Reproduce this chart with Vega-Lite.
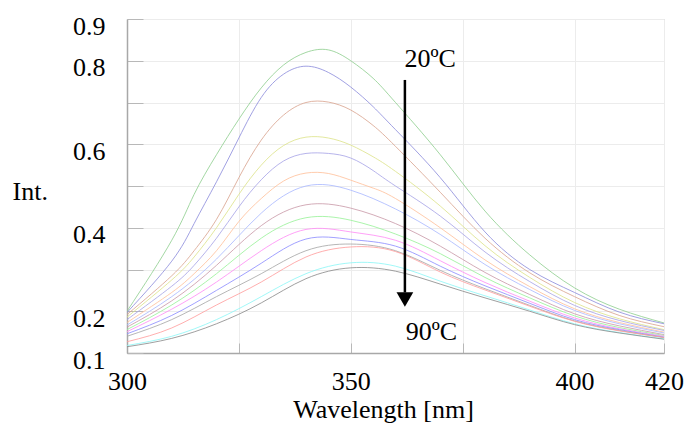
{
"$schema":"https://vega.github.io/schema/vega-lite/v6.json",
"width":537,"height":334,
"autosize":{"type":"none"},
"padding":{"left":127,"top":19,"right":22,"bottom":75},
"background":"white",
"config":{"view":{"stroke":"#c4c4c4","strokeWidth":1},"font":"Liberation Serif"},
"datasets":{
"spectra":[
{"T":"20","wl":300,"v":0.200},{"T":"20","wl":310,"v":0.370},{"T":"20","wl":315,"v":0.480},{"T":"20","wl":320,"v":0.575},{"T":"20","wl":325,"v":0.660},{"T":"20","wl":330,"v":0.735},{"T":"20","wl":335,"v":0.790},{"T":"20","wl":340,"v":0.820},{"T":"20","wl":345,"v":0.826},{"T":"20","wl":350,"v":0.800},{"T":"20","wl":355,"v":0.758},{"T":"20","wl":360,"v":0.700},{"T":"20","wl":370,"v":0.575},{"T":"20","wl":380,"v":0.440},{"T":"20","wl":390,"v":0.335},{"T":"20","wl":400,"v":0.256},{"T":"20","wl":410,"v":0.205},{"T":"20","wl":420,"v":0.172},
{"T":"25","wl":300,"v":0.197},{"T":"25","wl":310,"v":0.320},{"T":"25","wl":315,"v":0.410},{"T":"25","wl":320,"v":0.510},{"T":"25","wl":325,"v":0.615},{"T":"25","wl":330,"v":0.712},{"T":"25","wl":335,"v":0.768},{"T":"25","wl":340,"v":0.787},{"T":"25","wl":345,"v":0.772},{"T":"25","wl":350,"v":0.737},{"T":"25","wl":355,"v":0.690},{"T":"25","wl":360,"v":0.635},{"T":"25","wl":370,"v":0.520},{"T":"25","wl":380,"v":0.390},{"T":"25","wl":390,"v":0.300},{"T":"25","wl":400,"v":0.245},{"T":"25","wl":410,"v":0.198},{"T":"25","wl":420,"v":0.170},
{"T":"30","wl":300,"v":0.192},{"T":"30","wl":310,"v":0.285},{"T":"30","wl":315,"v":0.345},{"T":"30","wl":320,"v":0.420},{"T":"30","wl":325,"v":0.520},{"T":"30","wl":330,"v":0.610},{"T":"30","wl":335,"v":0.670},{"T":"30","wl":340,"v":0.700},{"T":"30","wl":345,"v":0.701},{"T":"30","wl":350,"v":0.682},{"T":"30","wl":355,"v":0.645},{"T":"30","wl":360,"v":0.595},{"T":"30","wl":370,"v":0.485},{"T":"30","wl":380,"v":0.375},{"T":"30","wl":390,"v":0.292},{"T":"30","wl":400,"v":0.235},{"T":"30","wl":410,"v":0.190},{"T":"30","wl":420,"v":0.163},
{"T":"35","wl":300,"v":0.186},{"T":"35","wl":310,"v":0.275},{"T":"35","wl":315,"v":0.330},{"T":"35","wl":320,"v":0.400},{"T":"35","wl":325,"v":0.480},{"T":"35","wl":330,"v":0.550},{"T":"35","wl":335,"v":0.597},{"T":"35","wl":340,"v":0.617},{"T":"35","wl":345,"v":0.615},{"T":"35","wl":350,"v":0.598},{"T":"35","wl":355,"v":0.570},{"T":"35","wl":360,"v":0.535},{"T":"35","wl":370,"v":0.452},{"T":"35","wl":380,"v":0.357},{"T":"35","wl":390,"v":0.281},{"T":"35","wl":400,"v":0.221},{"T":"35","wl":410,"v":0.182},{"T":"35","wl":420,"v":0.156},
{"T":"40","wl":300,"v":0.180},{"T":"40","wl":310,"v":0.260},{"T":"40","wl":315,"v":0.310},{"T":"40","wl":320,"v":0.375},{"T":"40","wl":325,"v":0.450},{"T":"40","wl":330,"v":0.515},{"T":"40","wl":335,"v":0.560},{"T":"40","wl":340,"v":0.578},{"T":"40","wl":345,"v":0.578},{"T":"40","wl":350,"v":0.567},{"T":"40","wl":355,"v":0.537},{"T":"40","wl":360,"v":0.500},{"T":"40","wl":370,"v":0.428},{"T":"40","wl":380,"v":0.342},{"T":"40","wl":390,"v":0.271},{"T":"40","wl":400,"v":0.214},{"T":"40","wl":410,"v":0.178},{"T":"40","wl":420,"v":0.154},
{"T":"45","wl":300,"v":0.173},{"T":"45","wl":310,"v":0.245},{"T":"45","wl":315,"v":0.290},{"T":"45","wl":320,"v":0.345},{"T":"45","wl":325,"v":0.415},{"T":"45","wl":330,"v":0.470},{"T":"45","wl":335,"v":0.512},{"T":"45","wl":340,"v":0.531},{"T":"45","wl":345,"v":0.530},{"T":"45","wl":350,"v":0.514},{"T":"45","wl":355,"v":0.495},{"T":"45","wl":360,"v":0.470},{"T":"45","wl":370,"v":0.400},{"T":"45","wl":380,"v":0.323},{"T":"45","wl":390,"v":0.259},{"T":"45","wl":400,"v":0.206},{"T":"45","wl":410,"v":0.173},{"T":"45","wl":420,"v":0.150},
{"T":"50","wl":300,"v":0.167},{"T":"50","wl":310,"v":0.235},{"T":"50","wl":320,"v":0.325},{"T":"50","wl":330,"v":0.435},{"T":"50","wl":340,"v":0.500},{"T":"50","wl":350,"v":0.490},{"T":"50","wl":360,"v":0.445},{"T":"50","wl":370,"v":0.384},{"T":"50","wl":380,"v":0.312},{"T":"50","wl":390,"v":0.252},{"T":"50","wl":400,"v":0.202},{"T":"50","wl":410,"v":0.170},{"T":"50","wl":420,"v":0.148},
{"T":"55","wl":300,"v":0.162},{"T":"55","wl":310,"v":0.225},{"T":"55","wl":320,"v":0.310},{"T":"55","wl":330,"v":0.405},{"T":"55","wl":340,"v":0.455},{"T":"55","wl":350,"v":0.447},{"T":"55","wl":360,"v":0.410},{"T":"55","wl":370,"v":0.356},{"T":"55","wl":380,"v":0.293},{"T":"55","wl":390,"v":0.240},{"T":"55","wl":400,"v":0.194},{"T":"55","wl":410,"v":0.165},{"T":"55","wl":420,"v":0.144},
{"T":"60","wl":300,"v":0.156},{"T":"60","wl":310,"v":0.215},{"T":"60","wl":320,"v":0.290},{"T":"60","wl":330,"v":0.375},{"T":"60","wl":340,"v":0.424},{"T":"60","wl":350,"v":0.418},{"T":"60","wl":360,"v":0.385},{"T":"60","wl":370,"v":0.338},{"T":"60","wl":380,"v":0.281},{"T":"60","wl":390,"v":0.232},{"T":"60","wl":400,"v":0.189},{"T":"60","wl":410,"v":0.161},{"T":"60","wl":420,"v":0.142},
{"T":"65","wl":300,"v":0.151},{"T":"65","wl":310,"v":0.205},{"T":"65","wl":320,"v":0.270},{"T":"65","wl":330,"v":0.345},{"T":"65","wl":340,"v":0.396},{"T":"65","wl":350,"v":0.390},{"T":"65","wl":360,"v":0.370},{"T":"65","wl":370,"v":0.321},{"T":"65","wl":380,"v":0.269},{"T":"65","wl":390,"v":0.224},{"T":"65","wl":400,"v":0.184},{"T":"65","wl":410,"v":0.158},{"T":"65","wl":420,"v":0.140},
{"T":"70","wl":300,"v":0.146},{"T":"70","wl":310,"v":0.190},{"T":"70","wl":320,"v":0.250},{"T":"70","wl":330,"v":0.315},{"T":"70","wl":340,"v":0.373},{"T":"70","wl":350,"v":0.372},{"T":"70","wl":360,"v":0.356},{"T":"70","wl":370,"v":0.308},{"T":"70","wl":380,"v":0.261},{"T":"70","wl":390,"v":0.219},{"T":"70","wl":400,"v":0.180},{"T":"70","wl":410,"v":0.156},{"T":"70","wl":420,"v":0.138},
{"T":"75","wl":300,"v":0.140},{"T":"75","wl":310,"v":0.180},{"T":"75","wl":320,"v":0.235},{"T":"75","wl":330,"v":0.290},{"T":"75","wl":340,"v":0.345},{"T":"75","wl":350,"v":0.361},{"T":"75","wl":360,"v":0.345},{"T":"75","wl":370,"v":0.298},{"T":"75","wl":380,"v":0.254},{"T":"75","wl":390,"v":0.214},{"T":"75","wl":400,"v":0.177},{"T":"75","wl":410,"v":0.154},{"T":"75","wl":420,"v":0.137},
{"T":"80","wl":300,"v":0.127},{"T":"80","wl":310,"v":0.160},{"T":"80","wl":320,"v":0.215},{"T":"80","wl":330,"v":0.270},{"T":"80","wl":340,"v":0.330},{"T":"80","wl":350,"v":0.354},{"T":"80","wl":360,"v":0.343},{"T":"80","wl":370,"v":0.294},{"T":"80","wl":380,"v":0.251},{"T":"80","wl":390,"v":0.212},{"T":"80","wl":400,"v":0.176},{"T":"80","wl":410,"v":0.153},{"T":"80","wl":420,"v":0.137},
{"T":"85","wl":300,"v":0.118},{"T":"85","wl":310,"v":0.140},{"T":"85","wl":320,"v":0.180},{"T":"85","wl":330,"v":0.235},{"T":"85","wl":340,"v":0.290},{"T":"85","wl":350,"v":0.316},{"T":"85","wl":360,"v":0.308},{"T":"85","wl":370,"v":0.272},{"T":"85","wl":380,"v":0.237},{"T":"85","wl":390,"v":0.203},{"T":"85","wl":400,"v":0.170},{"T":"85","wl":410,"v":0.149},{"T":"85","wl":420,"v":0.134},
{"T":"90","wl":300,"v":0.115},{"T":"90","wl":310,"v":0.135},{"T":"90","wl":320,"v":0.170},{"T":"90","wl":330,"v":0.220},{"T":"90","wl":340,"v":0.278},{"T":"90","wl":350,"v":0.304},{"T":"90","wl":360,"v":0.296},{"T":"90","wl":370,"v":0.265},{"T":"90","wl":380,"v":0.232},{"T":"90","wl":390,"v":0.200},{"T":"90","wl":400,"v":0.168},{"T":"90","wl":410,"v":0.148},{"T":"90","wl":420,"v":0.133}
],
"arrow":[{"wl":362.1,"v":0.754,"v2":0.245}],
"head":[{"wl":362.1,"v":0.228}],
"notes":[{"wl":362,"v":0.786,"text":"20ºC"},{"wl":362.3,"v":0.131,"text":"90ºC"}]
},
"encoding":{
  "x":{"field":"wl","type":"quantitative","scale":{"domain":[300,420],"nice":false,"zero":false},
   "axis":{"values":[300,325,350,375,400,420],"format":"d","labelExpr":"datum.value==325||datum.value==375?'':datum.label",
    "title":"Wavelength [nm]","titleFont":"Liberation Serif","titleFontSize":26,"titleFontWeight":"normal","titleColor":"black",
    "titleX":256,"titleY":64,"titleAlign":"center","titleBaseline":"alphabetic",
    "labelFont":"Liberation Serif","labelFontSize":26,"labelColor":"black","labelPadding":25,"labelFlush":false,"labelOverlap":false,"labelBound":false,
    "tickSize":-10,"tickColor":"#b8b8b8","domainColor":"#a8a8a8","domainWidth":1.5,"grid":true,"gridColor":"#ececec"}},
  "y":{"field":"v","type":"quantitative","scale":{"domain":[0.1,0.9],"nice":false,"zero":false},
   "axis":{"values":[0.1,0.2,0.3,0.4,0.5,0.6,0.7,0.8,0.9],"format":".1f","labelExpr":"indexof(['0.3','0.5','0.7'],datum.label)>=0?'':datum.label",
    "title":"Int.","titleFont":"Liberation Serif","titleFontSize":26,"titleFontWeight":"normal","titleColor":"black","titleAngle":0,
    "titleX":-115,"titleY":180,"titleAlign":"left","titleBaseline":"alphabetic",
    "labelFont":"Liberation Serif","labelFontSize":26,"labelColor":"black","labelPadding":38,"labelOffset":7,"labelFlush":false,"labelOverlap":false,"labelBound":false,
    "tickSize":-16,"tickColor":"#b8b8b8","domainColor":"#a8a8a8","domainWidth":1.5,"grid":true,"gridColor":"#ececec"}}
},
"layer":[
{"data":{"name":"spectra"},
 "mark":{"type":"line","interpolate":"natural","strokeWidth":1,"opacity":0.82,"clip":true},
 "encoding":{
  "color":{"field":"T","type":"nominal","legend":null,
   "scale":{"domain":["20","25","30","35","40","45","50","55","60","65","70","75","80","85","90"],
    "range":["#8fce8f","#8c8cdc","#d9a38f","#dde38a","#a7a3e6","#ffbf9a","#aab8ff","#c99aa8","#99f199","#ff8cf5","#8c8cff","#a6a6a6","#ff9c9c","#8cf7f7","#8a8a8a"]}}
 }},
{"data":{"name":"arrow"},
 "mark":{"type":"rule","strokeWidth":2.5,"color":"black"},
 "encoding":{"y2":{"field":"v2"}}},
{"data":{"name":"head"},
 "mark":{"type":"point","shape":"triangle-down","filled":true,"size":280,"color":"black","opacity":1},
 "encoding":{}},
{"data":{"name":"notes"},
 "mark":{"type":"text","align":"left","baseline":"alphabetic","fontSize":26,"font":"Liberation Serif","color":"black"},
 "encoding":{"text":{"field":"text"}}}
]
}
